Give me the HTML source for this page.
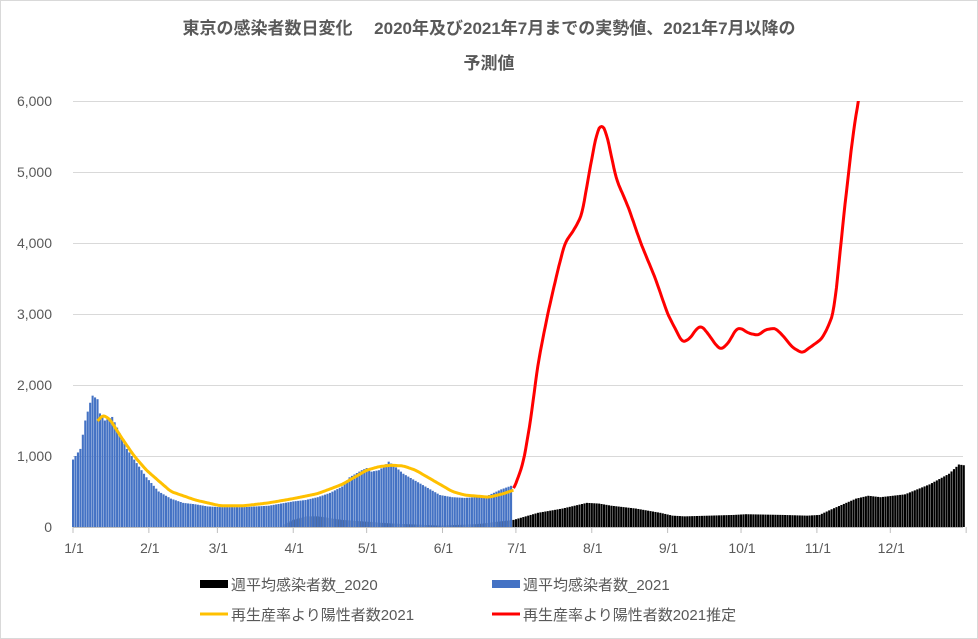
<!DOCTYPE html><html><head><meta charset="utf-8"><style>body{margin:0;background:#fff}svg{display:block}text{font-family:"Liberation Sans","Noto Sans CJK JP",sans-serif;fill:#595959}</style></head><body>
<svg id="s" width="978" height="639" xmlns="http://www.w3.org/2000/svg">
<defs><clipPath id="c"><rect x="60" y="101" width="910" height="440"/></clipPath></defs>
<rect x="0.5" y="0.5" width="977" height="638" fill="#fff" stroke="#d9d9d9"/>
<text x="489" y="34" text-anchor="middle" font-size="17" font-weight="bold">東京の感染者数日変化　 2020年及び2021年7月までの実勢値、2021年7月以降の</text>
<text x="489" y="69" text-anchor="middle" font-size="17" font-weight="bold">予測値</text>
<g id="grid" stroke="#d9d9d9" stroke-width="1"></g>
<g id="ylab" font-size="14" text-anchor="end"></g>
<g id="b20" fill="#000"></g><g id="b21" fill="#4472c4"></g>
<line x1="73" y1="527.5" x2="963" y2="527.5" stroke="#bfbfbf"/>
<g id="xt" stroke="#bfbfbf"></g><g id="xl" font-size="14" text-anchor="middle"></g>
<polyline id="yl" fill="none" stroke="#ffc000" stroke-width="3" stroke-linejoin="round"/>
<polyline id="rl" fill="none" stroke="#ff0000" stroke-width="3" stroke-linejoin="round" clip-path="url(#c)"/>
<g font-size="15">
<rect x="200" y="580" width="28" height="8" fill="#000"/><text x="231" y="590">週平均感染者数_2020</text>
<rect x="492" y="580" width="28" height="8" fill="#4472c4"/><text x="523" y="590">週平均感染者数_2021</text>
<line x1="200" y1="614" x2="228" y2="614" stroke="#ffc000" stroke-width="3"/><text x="231" y="620">再生産率より陽性者数2021</text>
<line x1="492" y1="614" x2="520" y2="614" stroke="#ff0000" stroke-width="3"/><text x="523" y="620">再生産率より陽性者数2021推定</text>
</g>
</svg>
<script>
const NS="http://www.w3.org/2000/svg";
function el(p,t,a,tx){const e=document.createElementNS(NS,t);for(const k in a)e.setAttribute(k,a[k]);if(tx)e.textContent=tx;document.getElementById(p).appendChild(e);}
const X=d=>73+d*2.447, Y=v=>527-v*0.071;
for(let i=1;i<=6;i++){el('grid','line',{x1:73,x2:963,y1:Y(i*1000)+.5,y2:Y(i*1000)+.5});}
for(let i=0;i<=6;i++)el('ylab','text',{x:52,y:Y(i*1000)+5},i?(i+',000'):'0');
const m=[0,31,59,90,120,151,181,212,243,273,304,334,365];
m.forEach((d,i)=>{el('xt','line',{x1:X(d),x2:X(d),y1:527,y2:533});if(i<12)el('xl','text',{x:X(d)+1,y:553},(i+1)+'/1');});
function interp(k,d){for(let i=0;i<k.length-1;i++){if(d>=k[i][0]&&d<=k[i+1][0]){const t=(d-k[i][0])/(k[i+1][0]-k[i][0]);return k[i][1]+t*(k[i+1][1]-k[i][1]);}}return null;}
function smooth(k){const out=[];for(let d=k[0][0];d<=k[k.length-1][0];d+=0.5){let s=0,n=0;for(let o=-1;o<=1;o+=0.5){const v=interp(k,Math.min(Math.max(d+o,k[0][0]),k[k.length-1][0]));s+=v;n++;}out.push([d,s/n]);}return out;}
const b21=[[0,950],[2,1050],[3,1100],[5,1500],[7,1750],[8,1850],[10,1800],[11,1600],[13,1500],[16,1550],[18,1400],[22,1100],[25,950],[30,700],[35,500],[40,400],[45,340],[50,320],[55,290],[60,280],[70,280],[80,300],[85,330],[90,360],[95,380],[100,420],[105,480],[110,570],[113,700],[118,800],[120,830],[122,780],[125,800],[127,850],[129,920],[131,870],[135,750],[140,650],[145,550],[150,450],[155,420],[160,410],[165,420],[170,450],[175,530],[179,580]];
const b20=[[0,0],[85,0],[90,100],[95,150],[100,150],[110,100],[130,50],[150,20],[165,40],[180,100],[190,200],[200,260],[210,340],[215,330],[220,300],[230,260],[240,200],[245,160],[250,150],[260,160],[270,170],[275,180],[290,170],[300,160],[305,170],[310,250],[320,400],[325,440],[330,420],[340,460],[350,600],[358,750],[362,880],[364,870]];
for(let d=0;d<=364;d++){let v=interp(b20,d);if(v>0)el('b20','rect',{x:X(d)-1,y:Y(v),width:2.1,height:v*0.071});
if(d<=179){v=interp(b21,d);el('b21','rect',{x:X(d)-1,y:Y(v),width:2.1,height:v*0.071});}}
const yk=[[10,1480],[12,1580],[15,1520],[20,1250],[25,1000],[30,800],[40,500],[50,380],[60,300],[70,300],[80,340],[90,400],[100,470],[110,600],[115,700],[120,800],[125,850],[130,870],[135,860],[140,800],[145,700],[150,600],[155,500],[160,450],[170,420],[176,470],[180,520]];
const rk=[[180,520],[184,900],[187,1500],[190,2300],[194,3000],[198,3600],[201,4000],[205,4200],[208,4400],[211,5000],[214,5550],[216,5680],[218,5550],[222,4900],[227,4500],[232,4000],[238,3500],[243,3000],[246,2800],[249,2600],[252,2650],[255,2800],[257,2830],[260,2700],[263,2550],[265,2500],[268,2600],[271,2790],[273,2800],[276,2730],[280,2700],[283,2780],[287,2800],[290,2700],[294,2530],[298,2450],[302,2550],[306,2650],[309,2850],[311,3050],[313,3700],[315,4400],[317,5000],[319,5600],[321,6000],[323,6500]];
document.getElementById('yl').setAttribute('points',smooth(yk).map(p=>X(p[0]).toFixed(1)+','+Y(p[1]).toFixed(1)).join(' '));
document.getElementById('rl').setAttribute('points',smooth(rk).map(p=>X(p[0]).toFixed(1)+','+Y(p[1]).toFixed(1)).join(' '));
</script></body></html>
